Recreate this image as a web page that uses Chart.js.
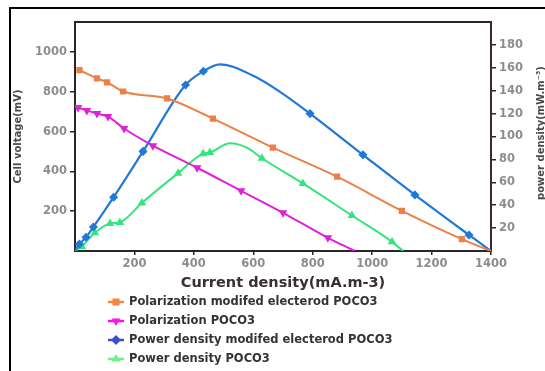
<!DOCTYPE html>
<html>
<head>
<meta charset="utf-8">
<script src="https://cdn.jsdelivr.net/npm/chart.js@4"></script>
<style>
  html, body { margin: 0; padding: 0; background: #fff; }
</style>
</head>
<body>
<canvas id="chart" width="545" height="371"></canvas>
<script>
// tick labels
const xTicks = [200, 400, 600, 800, 1000, 1200, 1400];
const voltTicks = [200, 400, 600, 800, 1000];
const powerTicks = [20, 40, 60, 80, 100, 120, 140, 160, 180];

// Polarization modifed electerod POCO3 (mV) - marked points, then unmarked curve points
const polModX = [15, 74, 108, 162, 310, 464, 666, 882, 1100, 1302];
const polModY = [908, 867, 847, 801, 766, 665, 519, 373, 202, 60];
const polModLineX = [1400];
const polModLineY = [0];

// Polarization POCO3 (mV)
const polX = [10, 40, 74, 111, 165, 262, 411, 559, 700, 851];
const polY = [721, 706, 690, 675, 615, 529, 418, 302, 192, 66];
const polLineX = [0, 942];
const polLineY = [726, 0];

// Power density modifed electerod POCO3 (right axis)
const powModX = [15, 37, 62, 130, 229, 372, 432, 791, 969, 1144, 1326];
const powModY = [6, 12, 21, 47, 87, 145, 157, 120, 84, 49, 14];
const powModLineX = [0, 488, 600, 690, 1400];
const powModLineY = [0, 163, 153, 139, 0];

// Power density POCO3 (right axis)
const powX = [23, 67, 118, 151, 225, 347, 431, 454, 629, 767, 932, 1067];
const powY = [4, 16, 24, 25, 42, 68, 85, 86, 81, 59, 31, 8];
const powLineX = [0, 522, 580, 1104];
const powLineY = [0, 94, 90, 0];

function series(mx, my, lx, ly) {
  const pts = mx.map((x, i) => ({x: x, y: my[i], mark: true}))
    .concat(lx.map((x, i) => ({x: x, y: ly[i], mark: false})));
  return pts.sort((a, b) => a.x - b.x);
}

const tickFont = {family: 'DejaVu Sans', size: 11.5, weight: 'bold'};
const tickColor = '#8d8d8d';
const axisColor = '#2e2428';

function markRadius(ctx) {
  return ctx.raw && ctx.raw.mark ? 3 : 0;
}

// outer frame (cut off at right and bottom like the reference)
const framePlugin = {
  id: 'frame',
  beforeDraw(chart) {
    const ctx = chart.ctx;
    ctx.save();
    ctx.strokeStyle = '#000';
    ctx.lineWidth = 2;
    ctx.beginPath();
    ctx.moveTo(10, 371);
    ctx.lineTo(10, 8);
    ctx.lineTo(545, 8);
    ctx.stroke();
    ctx.restore();
  }
};

// right axis title reads bottom to top, and the vertical legend list
const extrasPlugin = {
  id: 'extras',
  afterDraw(chart) {
    const ctx = chart.ctx;
    ctx.save();
    ctx.translate(541, 133);
    ctx.rotate(-Math.PI / 2);
    ctx.font = 'bold 10px "DejaVu Sans"';
    ctx.fillStyle = '#4a4a4a';
    ctx.textAlign = 'center';
    ctx.textBaseline = 'middle';
    ctx.fillText('power density(mW.m\u207B\u00B3)', 0, 0);
    ctx.restore();

    chart.data.datasets.forEach((ds, i) => {
      const y = 302 + i * 19;
      ctx.save();
      ctx.strokeStyle = ds.legendColor;
      ctx.fillStyle = ds.legendColor;
      ctx.lineWidth = 2.5;
      ctx.beginPath();
      ctx.moveTo(108, y);
      ctx.lineTo(124, y);
      ctx.stroke();
      Chart.helpers.drawPoint(ctx, {pointStyle: ds.pointStyle, radius: 5, rotation: ds.pointRotation || 0}, 116, y);
      ctx.fillStyle = '#333';
      ctx.font = 'bold 11.5px "DejaVu Sans"';
      ctx.textAlign = 'left';
      ctx.textBaseline = 'middle';
      ctx.fillText(ds.label, 129, y);
      ctx.restore();
    });
  }
};

new Chart(document.getElementById('chart'), {
  type: 'line',
  data: {
    datasets: [{
      label: 'Polarization modifed electerod POCO3',
      data: series(polModX, polModY, polModLineX, polModLineY),
      yAxisID: 'y',
      borderColor: '#ec8048',
      backgroundColor: '#ec8048',
      legendColor: '#f28a3c',
      pointStyle: 'rect',
      pointRadius: markRadius,
      borderWidth: 2,
      cubicInterpolationMode: 'monotone'
    }, {
      label: 'Polarization POCO3',
      data: series(polX, polY, polLineX, polLineY),
      yAxisID: 'y',
      borderColor: '#dd22d8',
      backgroundColor: '#dd22d8',
      legendColor: '#ff10f0',
      pointStyle: 'triangle',
      pointRotation: 180,
      pointRadius: markRadius,
      borderWidth: 2,
      cubicInterpolationMode: 'monotone'
    }, {
      label: 'Power density modifed electerod POCO3',
      data: series(powModX, powModY, powModLineX, powModLineY),
      yAxisID: 'y2',
      borderColor: '#2179d6',
      backgroundColor: '#2179d6',
      legendColor: '#3d4fcf',
      pointStyle: 'rectRot',
      pointRadius: markRadius,
      borderWidth: 2.2,
      cubicInterpolationMode: 'monotone'
    }, {
      label: 'Power density POCO3',
      data: series(powX, powY, powLineX, powLineY),
      yAxisID: 'y2',
      borderColor: '#35e57c',
      backgroundColor: '#35e57c',
      legendColor: '#6cf08c',
      pointStyle: 'triangle',
      pointRadius: markRadius,
      borderWidth: 2,
      cubicInterpolationMode: 'monotone'
    }]
  },
  options: {
    responsive: false,
    animation: false,
    layout: {
      padding: {left: 0, right: 0, top: 22, bottom: 75}
    },
    scales: {
      x: {
        type: 'linear',
        position: 'bottom',
        min: 0,
        max: 1400,
        afterBuildTicks: s => { s.ticks = xTicks.map(v => ({value: v})); },
        afterFit: s => { s.height = 45; },
        ticks: {
          font: tickFont,
          color: tickColor,
          padding: 2,
          maxRotation: 0,
          autoSkip: false,
          callback: v => String(v)
        },
        grid: {
          drawOnChartArea: false,
          drawTicks: true,
          tickLength: 4,
          color: axisColor,
          lineWidth: 1.5
        },
        border: {display: true, color: axisColor, width: 2},
        title: {
          display: true,
          text: 'Current density(mA.m-3)',
          font: {family: 'DejaVu Sans', size: 14.5, weight: 'bold'},
          color: '#3b2e2e',
          padding: {top: 0, bottom: 4}
        }
      },
      x2: {
        type: 'linear',
        position: 'top',
        min: 0,
        max: 1400,
        afterFit: s => { s.height = 0; },
        ticks: {display: false},
        grid: {display: false},
        border: {display: true, color: axisColor, width: 2}
      },
      y: {
        position: 'left',
        min: 0,
        max: 1150,
        afterBuildTicks: s => { s.ticks = voltTicks.map(v => ({value: v})); },
        afterFit: s => { s.width = 75; },
        ticks: {
          font: tickFont,
          color: tickColor,
          padding: 3,
          callback: v => String(v)
        },
        grid: {
          drawOnChartArea: false,
          drawTicks: true,
          tickLength: 5,
          color: axisColor,
          lineWidth: 1.5
        },
        border: {display: true, color: axisColor, width: 2},
        title: {
          display: true,
          text: 'Cell voltage(mV)',
          font: {family: 'DejaVu Sans', size: 10, weight: 'bold'},
          color: '#4a4a4a',
          padding: {top: 12.5, bottom: 0}
        }
      },
      y2: {
        position: 'right',
        min: 0,
        max: 200,
        afterBuildTicks: s => { s.ticks = powerTicks.map(v => ({value: v})); },
        afterFit: s => { s.width = 54; },
        ticks: {
          font: tickFont,
          color: tickColor,
          padding: 3,
          callback: v => String(v)
        },
        grid: {
          drawOnChartArea: false,
          drawTicks: true,
          tickLength: 5,
          color: axisColor,
          lineWidth: 1.5
        },
        border: {display: true, color: '#3e2438', width: 2}
      }
    },
    plugins: {
      legend: {display: false},
      tooltip: {enabled: false}
    }
  },
  plugins: [framePlugin, extrasPlugin]
});
</script>
</body>
</html>
